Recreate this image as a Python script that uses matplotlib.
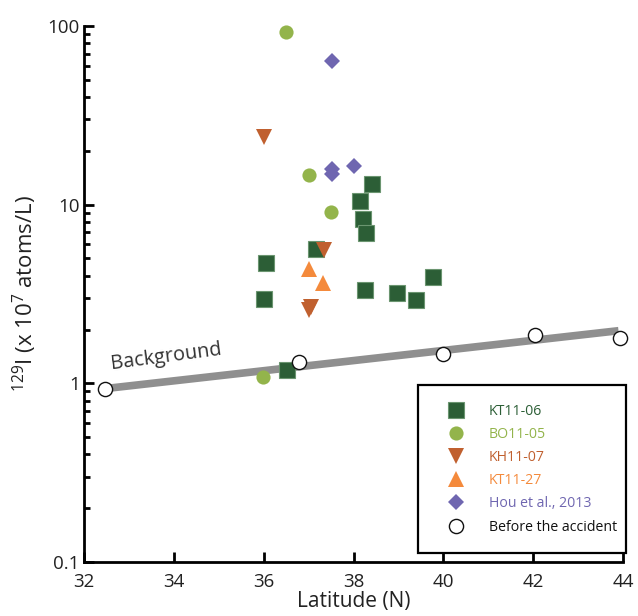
import matplotlib
matplotlib.use("Agg")
import matplotlib.pyplot as plt
from matplotlib.ticker import FixedLocator, FixedFormatter, LogLocator, NullFormatter
from matplotlib.lines import Line2D

plt.rcParams['font.family'] = ['Open Sans', 'DejaVu Sans']
plt.rcParams['mathtext.fontset'] = 'custom'
plt.rcParams['mathtext.rm'] = 'Open Sans'
plt.rcParams['mathtext.it'] = 'Open Sans'

# ---- data ----
kt1106_lat = [36.01, 36.06, 36.51, 37.17, 38.15, 38.22, 38.28, 38.41, 38.26, 38.96, 39.39, 39.76]
kt1106_val = [2.95, 4.69, 1.19, 5.63, 10.5, 8.27, 6.9, 13.1, 3.32, 3.22, 2.94, 3.94]

bo1105_lat = [36.50, 37.00, 37.49, 35.99]
bo1105_val = [92.0, 14.6, 9.11, 1.09]

kh1107_lat = [36.01, 37.35, 37.00, 37.05]
kh1107_val = [24.0, 5.56, 2.58, 2.66]

kt1127_lat = [37.01, 37.32]
kt1127_val = [4.34, 3.62]

hou_lat = [37.52, 37.51, 37.51, 38.00]
hou_val = [63.9, 15.8, 14.9, 16.4]

before_lat = [32.47, 36.79, 39.99, 42.05, 43.94]
before_val = [0.925, 1.31, 1.45, 1.86, 1.80]

background_lat = [32.4, 43.9]
background_val = [0.93, 1.97]

x_ticks = [32, 34, 36, 38, 40, 42, 44]
y_ticks = [0.1, 1, 10, 100]
y_ticklabels = ['0.1', '1', '10', '100']

c_kt06 = '#2c5e36'
c_bo05 = '#93b44b'
c_kh07 = '#c0602f'
c_kt27 = '#f48a3c'
c_hou = '#6f66b0'

fig = plt.figure(figsize=(6.38, 6.16), dpi=100)
ax = fig.add_axes([0.1317, 0.0877, 0.8448, 0.8701])

ax.set_yscale('log')
ax.set_xlim(32, 44)
ax.set_ylim(0.1, 100)

# background line
ax.plot(background_lat, background_val, color='#8f8f8f', lw=5.5, solid_capstyle='butt', zorder=2)
ax.text(33.82, 1.41, 'Background', rotation=7.5, fontsize=14.3, color='#333333',
        ha='center', va='center', zorder=5)

ms_sq = 11.5
ax.plot(kt1106_lat, kt1106_val, 's', ms=ms_sq, color=c_kt06, mec='#6b9570', mew=0.8, zorder=3, clip_on=False)
ax.plot(bo1105_lat, bo1105_val, 'o', ms=10.2, color=c_bo05, mec=c_bo05, mew=0, zorder=3, clip_on=False)
ax.plot(kh1107_lat, kh1107_val, 'v', ms=11.5, color=c_kh07, mew=0, zorder=3, clip_on=False)
ax.plot(kt1127_lat, kt1127_val, '^', ms=11.5, color=c_kt27, mew=0, zorder=3, clip_on=False)
ax.plot(hou_lat, hou_val, 'D', ms=8.2, color=c_hou, mew=0, zorder=3, clip_on=False)
ax.plot(before_lat, before_val, 'o', ms=10.2, mfc='white', mec='#111111', mew=1.0, zorder=4, clip_on=False)

# axes styling
for s in ['top', 'right']:
    ax.spines[s].set_visible(False)
for s in ['left', 'bottom']:
    ax.spines[s].set_linewidth(2.0)

ax.xaxis.set_major_locator(FixedLocator(x_ticks))
ax.xaxis.set_major_formatter(FixedFormatter([str(v) for v in x_ticks]))
ax.yaxis.set_major_locator(FixedLocator(y_ticks))
ax.yaxis.set_major_formatter(FixedFormatter(y_ticklabels))
ax.yaxis.set_minor_locator(LogLocator(base=10, subs=range(2, 10)))
ax.yaxis.set_minor_formatter(NullFormatter())

ax.tick_params(axis='both', which='major', direction='in', length=7, width=2.0,
               labelsize=13.5, colors='black', labelcolor='#222222')
ax.tick_params(axis='y', which='minor', direction='in', length=4.5, width=2.0)
ax.tick_params(axis='x', which='major', pad=8)
ax.tick_params(axis='y', which='major', pad=3)

ax.set_xlabel('Latitude (N)', fontsize=15, color='#222222', labelpad=0)
ax.set_ylabel(r'$^{129}$I (x 10$^{7}$ atoms/L)', fontsize=16, color='#222222', labelpad=6)

handles = [
    Line2D([], [], ls='none', marker='s', ms=ms_sq, color=c_kt06, mec='#6b9570', mew=0.8),
    Line2D([], [], ls='none', marker='o', ms=10.2, color=c_bo05, mew=0),
    Line2D([], [], ls='none', marker='v', ms=11.5, color=c_kh07, mew=0),
    Line2D([], [], ls='none', marker='^', ms=11.5, color=c_kt27, mew=0),
    Line2D([], [], ls='none', marker='D', ms=8.2, color=c_hou, mew=0),
    Line2D([], [], ls='none', marker='o', ms=10.2, mfc='white', mec='#111111', mew=1.0),
]
labels = ['KT11-06', 'BO11-05', 'KH11-07', 'KT11-27', 'Hou et al., 2013', 'Before the accident']
leg = ax.legend(handles, labels, loc='upper left', bbox_to_anchor=(0.620, 0.330, 0.386, 0.0),
                mode='expand', borderaxespad=0, frameon=True, fancybox=False, framealpha=1,
                edgecolor='black', fontsize=10.2, handlelength=2.75, handletextpad=0.95,
                borderpad=1.3, labelspacing=0.58)
leg.get_frame().set_linewidth(1.6)
for txt, col in zip(leg.get_texts(), [c_kt06, c_bo05, c_kh07, c_kt27, c_hou, '#111111']):
    txt.set_color(col)
leg.set_zorder(6)

fig.savefig('out.png', dpi=100)
